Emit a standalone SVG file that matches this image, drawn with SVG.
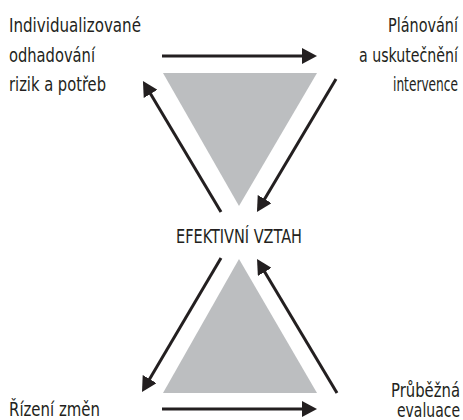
<svg xmlns="http://www.w3.org/2000/svg" width="463" height="420" viewBox="0 0 463 420">
<style>
.t{font-family:"Liberation Sans Narrow","DejaVu Sans Condensed","Liberation Sans",sans-serif;font-size:20px;fill:#231f20}
.r{text-anchor:end}
.tri{fill:#bcbec0}
.c{stroke:#231f20;stroke-width:3;fill:none;marker-end:url(#ah)}
</style>
<defs>
<marker id="ah" viewBox="0 0 15 16" refX="2" refY="8" markerWidth="15" markerHeight="16" markerUnits="userSpaceOnUse" orient="auto">
<path d="M0,0 L15,8 L0,16 z" fill="#231f20"/>
</marker>
</defs>
<rect width="463" height="420" fill="#ffffff"/>
<g id="tri-top"><polygon class="tri" points="163,73 317,73 239,206"/></g>
<g id="tri-bottom"><polygon class="tri" points="239,259 317,393 163,393"/></g>
<g id="node-odhad">
<text class="t" x="9" y="32" textLength="132" lengthAdjust="spacingAndGlyphs">Individualizované</text>
<text class="t" x="9" y="62" textLength="86" lengthAdjust="spacingAndGlyphs">odhadování</text>
<text class="t" x="9" y="91" textLength="97" lengthAdjust="spacingAndGlyphs">rizik a potřeb</text>
</g>
<g id="node-planovani">
<text class="t r" x="458" y="32" textLength="70" lengthAdjust="spacingAndGlyphs">Plánování</text>
<text class="t r" x="458" y="62" textLength="99" lengthAdjust="spacingAndGlyphs">a uskutečnění</text>
<text class="t r" x="458" y="91" textLength="65" lengthAdjust="spacingAndGlyphs">intervence</text>
</g>
<g id="node-vztah">
<text class="t" x="176" y="243" textLength="126" lengthAdjust="spacingAndGlyphs">EFEKTIVNÍ VZTAH</text>
</g>
<g id="node-rizeni">
<text class="t" x="9" y="416" textLength="91" lengthAdjust="spacingAndGlyphs">Řízení změn</text>
</g>
<g id="node-evaluace">
<text class="t r" x="460" y="397" textLength="69" lengthAdjust="spacingAndGlyphs">Průběžná</text>
<text class="t r" x="460" y="417" textLength="63" lengthAdjust="spacingAndGlyphs">evaluace</text>
</g>
<g id="connectors">
<line class="c" x1="162" y1="56" x2="304" y2="56"/>
<line class="c" x1="336" y1="79" x2="263.6" y2="200.8"/>
<line class="c" x1="221" y1="212" x2="149.6" y2="92.2"/>
<line class="c" x1="221" y1="258" x2="148.6" y2="380.8"/>
<line class="c" x1="337" y1="393" x2="263.7" y2="270.2"/>
<line class="c" x1="162" y1="409" x2="304" y2="409"/>
</g>
</svg>
